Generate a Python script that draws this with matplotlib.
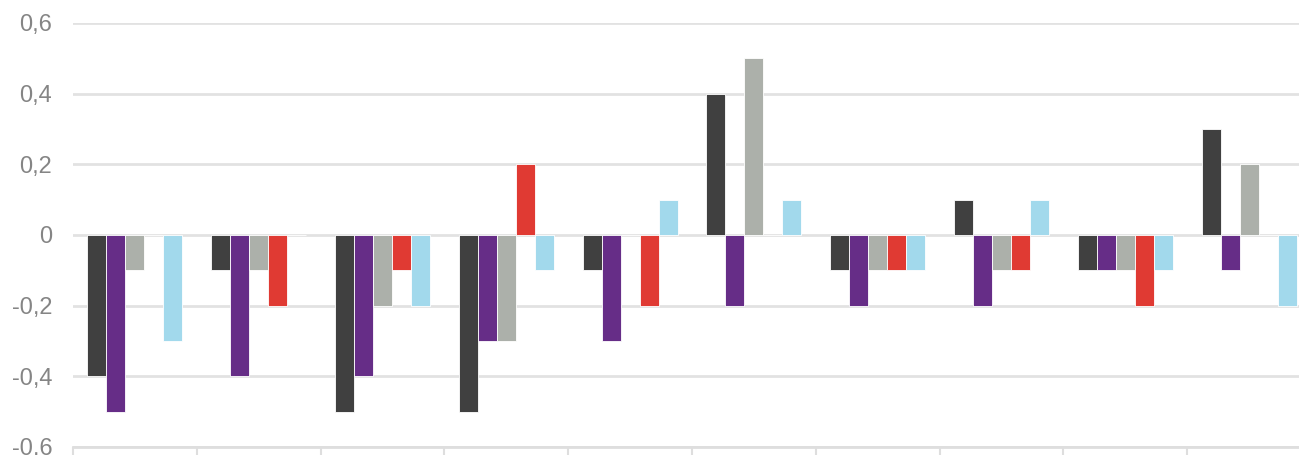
import matplotlib
matplotlib.use("Agg")
import matplotlib.pyplot as plt
import numpy as np

categories = [f"G{i}" for i in range(1, 11)]
series_names = ["S1", "S2", "S3", "S4", "S5"]
s1 = [-0.4, -0.1, -0.5, -0.5, -0.1, 0.4, -0.1, 0.1, -0.1, 0.3]
s2 = [-0.5, -0.4, -0.4, -0.3, -0.3, -0.2, -0.2, -0.2, -0.1, -0.1]
s3 = [-0.1, -0.1, -0.2, -0.3, 0.0, 0.5, -0.1, -0.1, -0.1, 0.2]
s4 = [0.0, -0.2, -0.1, 0.2, -0.2, 0.0, -0.1, -0.1, -0.2, 0.0]
s5 = [-0.3, 0.0, -0.2, -0.1, 0.1, 0.1, -0.1, 0.1, -0.1, -0.2]
colors = ["#404040", "#662d87", "#acb0aa", "#e03a33", "#a2d9ec"]
yticks = [-0.6, -0.4, -0.2, 0.0, 0.2, 0.4, 0.6]

plt.rcParams['font.family'] = ['Liberation Sans', 'DejaVu Sans']

fig = plt.figure(figsize=(12.99, 4.55), dpi=100)
ax = fig.add_axes([73/1299, 8/455, 1238/1299, 424/455])

x = np.arange(len(categories))
w = 0.1535
for k, (vals, c) in enumerate(zip([s1, s2, s3, s4, s5], colors)):
    ax.bar(x + (k - 2) * w, vals, width=w, color=c, edgecolor="white",
           linewidth=0.6, zorder=3)

ax.set_ylim(-0.6, 0.6)
ax.set_xlim(-0.5, len(categories) - 0.5)
ax.set_yticks(yticks)
ax.set_yticklabels([("0" if v == 0 else f"{v:.1f}".replace(".", ",")) for v in yticks])
ax.yaxis.grid(True, color="#e2e2e2", linewidth=2, zorder=0)
ax.set_axisbelow(True)
ax.tick_params(axis="y", length=0, pad=15, labelsize=17, labelcolor="#858585")

ax.set_xticks(np.arange(len(categories) + 1) - 0.5)
ax.set_xticklabels([])
ax.tick_params(axis="x", direction="out", length=12, width=1.5, color="#dedede")

for s in ["top", "right", "left"]:
    ax.spines[s].set_visible(False)
ax.spines["bottom"].set_color("#dedede")
ax.spines["bottom"].set_linewidth(2)

fig.savefig("out.png", dpi=100)
